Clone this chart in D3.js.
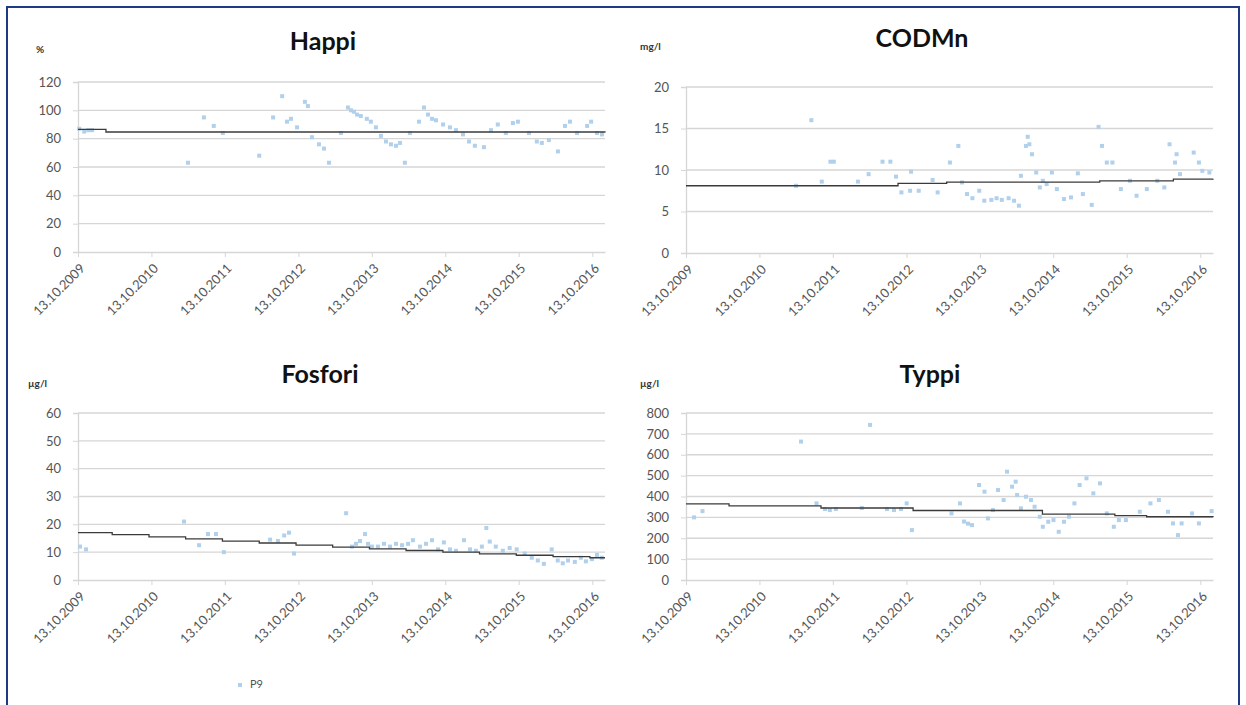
<!DOCTYPE html>
<html>
<head>
<meta charset="utf-8">
<script src="https://cdn.jsdelivr.net/npm/d3@7"></script>
<style>
  html, body { margin: 0; padding: 0; background: #fff; }
  svg { display: block; }
  text { font-family: Lato, "Open Sans", sans-serif; }
</style>
</head>
<body>
<svg id="chart" width="1246" height="705"></svg>
<script>
// ---- Data: P9 sampling results, 2009–2016 ----
const xTickDates = ["2009-10-13","2010-10-13","2011-10-13","2012-10-13","2013-10-13","2014-10-13","2015-10-13","2016-10-13"];
const xDomain = ["2009-10-13", "2016-12-15"];
const seriesName = "P9";

// Happi (%)
const happiTicks = [0, 20, 40, 60, 80, 100, 120];
const happiDates = ["2009-10-19","2009-11-13","2009-12-03","2009-12-22","2011-04-13","2011-07-01","2011-08-19","2011-10-03","2012-04-01","2012-06-09","2012-07-24","2012-08-17","2012-09-06","2012-10-06","2012-11-14","2012-11-29","2012-12-19","2013-01-23","2013-02-17","2013-03-14","2013-05-12","2013-06-16","2013-07-01","2013-07-16","2013-07-31","2013-08-19","2013-09-18","2013-10-08","2013-11-02","2013-11-27","2013-12-22","2014-01-16","2014-02-10","2014-03-02","2014-03-26","2014-04-20","2014-06-04","2014-06-29","2014-07-19","2014-08-08","2014-08-28","2014-10-02","2014-11-05","2014-12-05","2015-01-09","2015-02-08","2015-03-09","2015-04-23","2015-05-28","2015-07-01","2015-08-10","2015-09-14","2015-10-09","2015-12-03","2016-01-11","2016-02-05","2016-03-11","2016-04-25","2016-05-30","2016-06-24","2016-07-29","2016-09-17","2016-10-07","2016-11-05","2016-11-30"];
const happiValues = [87,85,86,86,63,95,89,84,68,95,110,92,94,88,106,103,81,76,73,63,84,102,100,99,97,96,94,92,88,82,78,76,75,77,63,84,92,102,97,94,93,90,88,86,83,78,75,74,86,90,84,91,92,84,78,77,79,71,89,92,84,89,92,84,83];
const happiTrendDates = ["2009-10-13","2010-03-01","2016-12-15"];
const happiTrendValues = [86.5, 84.7, 84.3];

// CODMn (mg/l)
const codTicks = [0, 5, 10, 15, 20];
const codDates = ["2011-04-13","2011-06-28","2011-08-19","2011-10-01","2011-10-18","2012-02-15","2012-04-08","2012-06-16","2012-07-25","2012-08-22","2012-09-18","2012-10-31","2012-11-05","2012-12-13","2013-02-20","2013-03-17","2013-05-17","2013-06-28","2013-07-16","2013-08-10","2013-09-06","2013-10-10","2013-11-04","2013-12-09","2014-01-04","2014-01-30","2014-03-05","2014-04-01","2014-04-25","2014-05-05","2014-05-30","2014-06-08","2014-06-16","2014-06-29","2014-07-20","2014-08-07","2014-08-22","2014-09-10","2014-10-06","2014-10-31","2014-12-05","2015-01-09","2015-02-12","2015-03-09","2015-04-22","2015-05-26","2015-06-12","2015-07-06","2015-08-03","2015-09-14","2015-10-29","2015-12-01","2016-01-21","2016-03-13","2016-04-17","2016-05-13","2016-06-09","2016-06-17","2016-07-04","2016-09-10","2016-10-06","2016-10-23","2016-11-27"];
const codValues = [8.1,16,8.6,11,11,8.6,9.5,11,11,9.2,7.3,7.5,9.8,7.5,8.8,7.3,10.9,12.9,8.5,7.1,6.6,7.5,6.3,6.4,6.6,6.4,6.6,6.3,5.7,9.3,12.9,14,13.1,11.9,9.7,7.9,8.7,8.3,9.7,7.7,6.5,6.7,9.6,7.1,5.8,15.2,12.9,10.9,10.9,7.7,8.7,6.9,7.7,8.7,7.9,13.1,10.9,11.9,9.5,12.1,10.9,9.9,9.7];
const codTrendDates = ["2009-10-13","2012-09-01","2013-05-01","2015-06-01","2016-06-01","2016-12-15"];
const codTrendValues = [8.1, 8.4, 8.55, 8.7, 8.9, 8.95];

// Fosfori (µg/l)
const fosTicks = [0, 10, 20, 30, 40, 50, 60];
const fosDates = ["2009-10-23","2009-11-22","2011-03-24","2011-06-07","2011-07-21","2011-08-30","2011-10-08","2012-05-25","2012-07-03","2012-08-03","2012-08-27","2012-09-21","2013-06-07","2013-07-06","2013-07-26","2013-08-15","2013-09-09","2013-09-24","2013-10-13","2013-11-12","2013-12-12","2014-01-11","2014-02-10","2014-03-12","2014-04-11","2014-05-05","2014-06-09","2014-07-09","2014-08-08","2014-09-07","2014-10-06","2014-11-05","2014-12-05","2015-01-14","2015-02-13","2015-03-14","2015-04-13","2015-05-05","2015-05-22","2015-06-21","2015-07-26","2015-08-29","2015-10-03","2015-11-12","2015-12-17","2016-01-16","2016-02-15","2016-03-25","2016-04-24","2016-05-19","2016-06-14","2016-07-18","2016-08-17","2016-09-11","2016-10-11","2016-11-05","2016-11-29"];
const fosValues = [12,11,21,12.5,16.5,16.5,10,14.5,14,16,17,9.5,24,12,13,14,16.5,13,12,12,13,12,13,12.5,13,14.3,12,13,14.3,11,13.5,11,10.5,14.3,11,10.5,12,18.7,13.8,12,10.5,11.5,11,9.5,8,7,5.8,11,7,6,7,6.5,8,6.7,7.5,9,8];
const fosTrendDates = ["2009-10-13","2010-04-01","2010-10-01","2011-04-01","2011-10-01","2012-04-01","2012-10-01","2013-04-01","2013-10-01","2014-04-01","2014-10-01","2015-04-01","2015-10-01","2016-04-01","2016-10-01","2016-12-15"];
const fosTrendValues = [17, 16.3, 15.5, 14.8, 14, 13.3, 12.5, 11.8, 11.2, 10.6, 10, 9.4, 8.9, 8.4, 8, 8];

// Typpi (µg/l)
const typTicks = [0, 100, 200, 300, 400, 500, 600, 700, 800];
const typDates = ["2009-11-22","2010-01-03","2011-05-08","2011-07-24","2011-09-04","2011-09-28","2011-10-28","2012-03-05","2012-04-15","2012-07-08","2012-08-12","2012-09-16","2012-10-14","2012-11-09","2013-05-25","2013-07-06","2013-07-26","2013-08-15","2013-09-04","2013-10-09","2013-11-05","2013-11-22","2013-12-17","2014-01-11","2014-02-08","2014-02-25","2014-03-22","2014-04-09","2014-04-16","2014-05-05","2014-05-30","2014-06-24","2014-07-12","2014-08-07","2014-08-22","2014-09-18","2014-10-14","2014-11-09","2014-12-05","2014-12-30","2015-01-26","2015-02-21","2015-03-27","2015-04-30","2015-06-02","2015-07-06","2015-08-10","2015-09-04","2015-10-09","2015-12-17","2016-02-08","2016-03-21","2016-05-05","2016-05-30","2016-06-24","2016-07-12","2016-09-02","2016-10-06","2016-12-08"];
const typValues = [300,330,663,367,340,335,340,345,743,340,335,340,367,239,319,367,280,270,263,455,423,295,335,431,383,519,447,471,407,343,399,383,351,303,255,279,287,231,279,303,367,455,487,415,463,319,255,287,287,327,367,383,327,271,215,271,319,271,330];
const typTrendDates = ["2009-10-13","2010-05-15","2011-08-15","2012-11-15","2014-08-20","2015-08-15","2016-01-20","2016-12-15"];
const typTrendValues = [365, 355, 345, 333, 316, 308, 303, 301];

// ---- Panel layout ----
const panels = [
  { title: "Happi",  unit: "%",    ticks: happiTicks, dates: happiDates, values: happiValues, tDates: happiTrendDates, tValues: happiTrendValues,
    x0: 78,  x1: 605,  yTop: 82,  yBot: 252, titleX: 323, titleY: 44,  unitX: 36,  unitY: 50 },
  { title: "CODMn",  unit: "mg/l", ticks: codTicks,   dates: codDates,   values: codValues,   tDates: codTrendDates,   tValues: codTrendValues,
    x0: 686, x1: 1213, yTop: 87,  yBot: 253, titleX: 922, titleY: 41,  unitX: 640, unitY: 47 },
  { title: "Fosfori", unit: "µg/l", ticks: fosTicks,  dates: fosDates,   values: fosValues,   tDates: fosTrendDates,   tValues: fosTrendValues,
    x0: 78,  x1: 605,  yTop: 413, yBot: 580, titleX: 320, titleY: 377, unitX: 28,  unitY: 384 },
  { title: "Typpi",  unit: "µg/l", ticks: typTicks,   dates: typDates,   values: typValues,   tDates: typTrendDates,   tValues: typTrendValues,
    x0: 686, x1: 1213, yTop: 413, yBot: 580, titleX: 930, titleY: 377, unitX: 640, unitY: 384 }
];

const parse = d3.timeParse("%Y-%m-%d");
const fmt = d3.timeFormat("%d.%m.%Y");
const gridColor = "#d6d6d6";
const textColor = "#555";
const markerColor = "#b0d0ec";
const trendColor = "#3b3b3b";

const svg = d3.select("#chart");

// outer frame
svg.append("rect")
  .attr("x", 7).attr("y", 7).attr("width", 1232).attr("height", 720)
  .attr("fill", "#fff").attr("stroke", "#1e3a86").attr("stroke-width", 2);

panels.forEach(p => {
  const g = svg.append("g");
  const x = d3.scaleTime().domain(xDomain.map(parse)).range([p.x0, p.x1]);
  const yMax = d3.max(p.ticks);
  const y = d3.scaleLinear().domain([0, yMax]).range([p.yBot, p.yTop]);

  // horizontal gridlines
  g.selectAll(".grid").data(p.ticks.filter(t => t > 0)).join("line")
    .attr("x1", p.x0).attr("x2", p.x1)
    .attr("y1", d => y(d)).attr("y2", d => y(d))
    .attr("stroke", gridColor).attr("stroke-width", 1.3);

  // y axis
  const yAxis = d3.axisLeft(y).tickValues(p.ticks).tickSize(5).tickPadding(12);
  const ya = g.append("g").attr("transform", `translate(${p.x0},0)`).call(yAxis);
  ya.select(".domain").attr("stroke", gridColor).attr("stroke-width", 1.3);
  ya.selectAll(".tick line").attr("stroke", gridColor);
  ya.selectAll(".tick text").attr("fill", textColor).style("font-size", "13px");

  // x axis
  const xAxis = d3.axisBottom(x).tickValues(xTickDates.map(parse)).tickFormat(fmt).tickSize(5).tickSizeOuter(0);
  const xa = g.append("g").attr("transform", `translate(0,${p.yBot})`).call(xAxis);
  xa.select(".domain").attr("stroke", gridColor).attr("stroke-width", 1.3);
  xa.selectAll(".tick line").attr("stroke", gridColor);
  xa.selectAll(".tick text")
    .attr("fill", textColor).style("font-size", "13px")
    .attr("text-anchor", "end")
    .attr("dy", "0.35em")
    .attr("transform", "translate(4,14) rotate(-45)")
    .attr("y", 0).attr("x", 0);

  // data points
  const pts = p.dates.map((d, i) => ({ date: parse(d), value: p.values[i] }));
  g.selectAll(".pt").data(pts).join("rect")
    .attr("x", d => x(d.date) - 2).attr("y", d => y(d.value) - 2)
    .attr("width", 4).attr("height", 4)
    .attr("fill", markerColor);

  // trend line
  const trend = p.tDates.map((d, i) => ({ date: parse(d), value: p.tValues[i] }));
  g.append("path").datum(trend)
    .attr("fill", "none").attr("stroke", trendColor).attr("stroke-width", 1.3)
    .attr("d", d3.line().x(d => x(d.date)).y(d => y(d.value)).curve(d3.curveStepAfter));

  // title and unit
  g.append("text").attr("x", p.titleX).attr("y", p.titleY)
    .attr("text-anchor", "middle").attr("dominant-baseline", "middle")
    .attr("font-weight", "bold").style("font-size", "25px").attr("fill", "#111")
    .text(p.title);
  g.append("text").attr("x", p.unitX).attr("y", p.unitY)
    .attr("dominant-baseline", "middle")
    .attr("font-weight", "bold").style("font-size", "10px").attr("fill", "#333")
    .text(p.unit);
});

// legend
const lg = svg.append("g").attr("transform", "translate(240,685)");
lg.append("rect").attr("x", -2).attr("y", -2).attr("width", 4).attr("height", 4).attr("fill", markerColor);
lg.append("text").attr("x", 10).attr("y", 0).attr("dominant-baseline", "middle")
  .attr("fill", textColor).style("font-size", "11px").text(seriesName);
</script>
</body>
</html>
